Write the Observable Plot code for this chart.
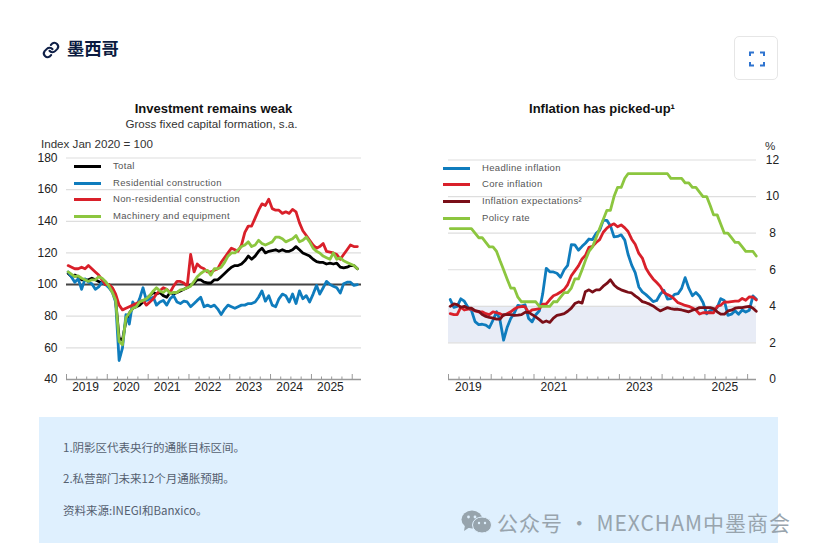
<!DOCTYPE html>
<html><head><meta charset="utf-8">
<script src="https://cdn.jsdelivr.net/npm/d3@7"></script>
<script src="https://cdn.jsdelivr.net/npm/@observablehq/plot@0.6"></script>
<style>
html,body{margin:0;padding:0;background:#fff;overflow:hidden}
body{position:relative;width:817px;height:555px;font-family:"Liberation Sans",Arial,sans-serif}
.abs{position:absolute;white-space:nowrap}
.t{font-weight:bold;font-size:13px;color:#111;transform:translateX(-50%);line-height:14px}
.s{font-size:11.6px;color:#333;line-height:14px}
.lg{font-size:9.5px;letter-spacing:.33px;color:#555;line-height:12px}
.sw{height:3px}
.note{left:63px;font-size:11.5px;color:#556070;font-family:"Noto Sans CJK SC";line-height:16px}
svg{display:block;overflow:visible}
</style></head><body>
<div id="root"></div>
<script>
// ---------- Left chart: investment (index, monthly from Jan 2019)
const total=[107,105,106,105,103,103,103,104,103,102,101,100,
100,97,90,66,65,77,82,85,86,87,89,91,
93,95,94,95,93,92,95,94,95,96,97,98,
99.5,101,103,103,101.5,101,101,103,103,105,107,109,
111,112,112,113,115,118,116,118,121,123,120,121,
121.5,122,121,122,121,121,122,124,122,120,119,118,
116,114.5,114,114,113,113.5,113,113.5,111,110.5,111,112,
112,110];
const residential=[108,104.6,101.5,103.6,97,103.6,101.5,100.5,97,98.5,101.5,100,
98,95,89,52,60,81,75,89,86,91,98,90,
91,92,87,89,90,87,91,93,89,88,89.5,89,
86,88,90,92,86,87,86,87,84.5,81,84.5,87,
86,85,86,87,87,88,88,89,92,96,89.5,93,
87,86,91,94,93,89,94,88,96,91,93,89,
94,99.5,94,98,102,100,99,98,94.6,100.5,101.5,101.5,
99.5,100];
const nonResidential=[112,111,110,110,111,110,112,110,108,106,103,100,
100,98,94,87,84,85,86,87,88,89,90,87,
89,91,94,96,98,97,95,99,102,102,101,99,
119,108,113,111,110,108,108,109,110,114,117,120,
123,122,121,125,133,137,137,142,147,151,150,154,
148,147,147,145,146,145,147.5,146,139,134,131,128,
125,123,124,126,121,120.5,120,119,116,119,122,125,
124,124];
const machinery=[108,106.5,105,105.5,104,103,102,103,103,105,104,102,
99,95,90,64,62,79,82,85,86,89,90,91,
93,96,98,96,95,97,94.5,95,95,96.6,97,98,
99,102,105,107,108.5,109,106,110,110,111,114,118,
120,120,122,124,125,127,124,125,128,126,125,126,
127,130,130,129,127,128,129,131,127,128,130,127,
123,121,120,118,117,116,120,116,117,115,114,113,
112,110];
// ---------- Right chart: inflation (percent, monthly from Jan 2019)
const headline=[4.37,3.94,4,4.41,4.28,3.95,3.78,3.16,3,3.02,2.97,2.83,
3.24,3.7,3.25,2.15,2.84,3.33,3.62,4.05,4.01,4.09,3.33,3.15,
3.54,3.76,4.67,6.08,5.89,5.88,5.81,5.59,6,6.24,7.37,7.36,
7.07,7.28,7.45,7.68,7.65,7.99,8.15,8.7,8.7,8.41,7.8,7.82,
7.91,7.62,6.85,6.25,5.84,5.06,4.79,4.64,4.45,4.26,4.32,4.66,
4.88,4.4,4.42,4.65,4.69,4.98,5.57,4.99,4.58,4.76,4.55,4.21,
3.59,3.77,3.8,3.93,4.42,4.32,3.51,3.57,3.76,3.57,3.8,3.69,
3.79,4.57,4.4];
const core=[3.6,3.55,3.55,3.95,3.8,3.85,3.85,3.75,3.7,3.7,3.6,3.55,
3.7,3.65,3.6,3.5,3.6,3.7,3.85,3.95,3.99,3.98,3.66,3.8,
3.84,3.87,4.12,4.13,4.37,4.58,4.66,4.78,4.92,5.19,5.67,5.94,
6.21,6.59,6.78,7.22,7.28,7.49,7.65,8.05,8.28,8.42,8.51,8.35,
8.45,8.29,8.09,7.67,7.39,6.89,6.64,6.08,5.76,5.5,5.3,5.09,
4.76,4.64,4.55,4.39,4.2,4.13,4.05,4,3.91,3.8,3.58,3.65,
3.65,3.66,3.64,4,4.06,4.24,4.23,4.26,4.28,4.28,4.43,4.33,
4.52,4.5,4.35];
const expectations=[4,4.13,4.09,3.95,4,3.9,3.9,3.76,3.73,3.55,3.45,3.4,
3.36,3.3,3.3,3.55,3.55,3.55,3.5,3.52,3.55,3.67,3.67,3.55,
3.42,3.27,3.12,3.2,3.12,3.36,3.5,3.55,3.6,3.73,3.9,4.15,
4.24,4.18,4.8,4.9,4.78,4.9,4.9,5.1,5.25,5.45,5.17,5,
4.9,4.83,4.77,4.73,4.57,4.43,4.26,4.2,4.12,4.02,3.88,3.75,
3.84,3.93,3.88,3.84,3.84,3.8,3.75,3.7,3.79,3.84,3.93,3.93,
3.93,3.93,3.88,3.7,3.57,3.57,3.75,3.79,3.9,3.93,3.93,3.97,
4,3.9,3.73];
const policy=[8.25,8.25,8.25,8.25,8.25,8.25,8.25,8,7.75,7.75,7.5,7.25,
7.25,7,6.5,6,5.5,5,5,4.5,4.25,4.25,4.25,4.25,
4.25,4,4,4,4,4.25,4.25,4.5,4.75,4.75,5,5.5,
5.5,6,6.5,7,7.25,7.75,8.25,8.75,9.25,9.25,10,10.5,
10.5,11,11.25,11.25,11.25,11.25,11.25,11.25,11.25,11.25,11.25,11.25,
11.25,11.25,11,11,11,11,10.75,10.75,10.5,10.5,10.25,10,
10,9.5,9,9,8.5,8,8,7.75,7.5,7.5,7.25,7,
7,7,6.75];

const leftYTicks=[40,60,80,100,120,140,160,180];
const rightYTicks=[0,2,4,6,8,10,12];
const leftYears=[2019,2020,2021,2022,2023,2024,2025];
const rightYears=[2019,2021,2023,2025];
const leftNames=["Total","Residential construction","Non-residential construction","Machinery and equipment"];
const rightNames=["Headline inflation","Core inflation","Inflation expectations²","Policy rate"];
const leftColors=["#000000","#0f7cbd","#d9202a","#8cc63f"];
const rightColors=["#0f7cbd","#d9202a","#7a0f18","#8cc63f"];

const root=document.getElementById("root");
const monthDate=i=>new Date(Date.UTC(2019,i,16));
const rows=a=>a.map((v,i)=>({date:monthDate(i),v}));
const midYear=y=>new Date(Date.UTC(y,5,20));
const quarters=d3.utcMonth.range(new Date(Date.UTC(2019,0,1)),new Date(Date.UTC(2026,3,1)),3);
const isYear=d=>d.getUTCMonth()===0;

function chart(o){
  const [y0,y1]=o.yDomain, u=(y1-y0)/221.5;
  const marks=[
    ...(o.band?[Plot.rect([o.band],{x1:()=>o.xDomain[0],x2:()=>o.xDomain[1],y1:d=>d[0],y2:d=>d[1],fill:"#e8ecf6"})]:[]),
    Plot.ruleY(o.yTicks.filter(t=>t!==y0),{stroke:"#dedede",strokeWidth:1.2}),
    ...(o.ref!=null?[Plot.ruleY([o.ref],{stroke:"#444",strokeWidth:2})]:[]),
    Plot.ruleY([y0],{stroke:"#999",strokeWidth:1.5}),
    Plot.ruleX(quarters,{x:d=>d,y1:y0,y2:d=>y0+(isYear(d)?5:2.5)*u,stroke:"#999",strokeWidth:1}),
    Plot.axisY({anchor:o.yAnchor,ticks:o.yTicks,tickSize:0,tickPadding:o.yPad,label:null,fontSize:12,color:"#222",textAnchor:o.yText}),
    Plot.axisX({ticks:o.years.map(midYear),tickFormat:d=>String(d.getUTCFullYear()),tickSize:0,tickPadding:3,label:null,fontSize:12,color:"#222"}),
    ...o.series.map((s,i)=>Plot.line(rows(s),{x:"date",y:"v",stroke:o.colors[i],strokeWidth:2.8,strokeLinejoin:"round"}))
  ];
  const svg=Plot.plot({width:o.width,height:o.height,marginLeft:o.ml,marginRight:o.mr,marginTop:o.mt,marginBottom:o.mb,
    x:{type:"utc",domain:o.xDomain},y:{domain:o.yDomain},style:{background:"transparent",fontFamily:"'Liberation Sans',Arial,sans-serif"},marks});
  const d=document.createElement("div");d.className="abs";d.style.left=o.left+"px";d.style.top=o.top+"px";d.appendChild(svg);root.appendChild(d);
}
chart({left:20,top:147,width:350,height:260,ml:46,mr:9,mt:10.5,mb:28,
  xDomain:[new Date(Date.UTC(2019,0,1)),new Date(Date.UTC(2026,2,25))],yDomain:[40,180],yTicks:leftYTicks,ref:100,yAnchor:"left",yPad:9,
  years:leftYears,series:[total,residential,nonResidential,machinery],colors:leftColors});
chart({left:430,top:147,width:360,height:260,ml:18,mr:34,mt:12.5,mb:28,
  xDomain:[new Date(Date.UTC(2019,0,1)),new Date(Date.UTC(2026,2,18))],yDomain:[0,12],yTicks:rightYTicks,band:[2,4],yAnchor:"right",yPad:16,yText:"middle",
  years:rightYears,series:[headline,core,expectations,policy],colors:rightColors});

function add(html,cls,css){const e=document.createElement("div");e.className="abs "+(cls||"");e.style.cssText=css||"";e.innerHTML=html;document.body.appendChild(e);return e}
function legend(names,colors,x0,xt,ys){names.forEach((n,i)=>{
  add("", "sw",`left:${x0}px;top:${ys[i]-1.5}px;width:27px;background:${colors[i]}`);
  add(n,"lg",`left:${xt}px;top:${ys[i]-6.5}px`);
})}
add("Investment remains weak","t","left:213.5px;top:102px");
add("Gross fixed capital formation, s.a.","s","left:211.5px;top:117px;transform:translateX(-50%)");
add("Index Jan 2020 = 100","s","left:41px;top:137px");
add("Inflation has picked-up¹","t","left:602px;top:102px");
add("%","s","left:765px;top:139px");
legend(leftNames,leftColors,74,113,[166,183,199,216]);
legend(rightNames,rightColors,443,482,[168,184,201,218]);
// header
add(`<svg width="18" height="18" viewBox="0 0 24 24" fill="none" stroke="#0f1f47" stroke-width="2.8" stroke-linecap="round" stroke-linejoin="round"><path d="M10 13a5 5 0 0 0 7.5.5l3-3a5 5 0 0 0-7-7l-1.7 1.7"/><path d="M14 11a5 5 0 0 0-7.5-.5l-3 3a5 5 0 0 0 7 7l1.7-1.7"/></svg>`,"","left:42px;top:41px");
add("墨西哥","",`left:67px;top:36px;font:bold 17.3px/24px "Noto Sans CJK SC";color:#0b1b40`);
add(`<svg width="16" height="16" viewBox="0 0 16 16" fill="none" stroke="#2f74d0" stroke-width="2" style="position:absolute;left:13.5px;top:13.5px"><path d="M1 5V1.5H5M11 1.5H15V5M15 11V14.5H11M5 14.5H1V11"/></svg>`,"",
  "left:734px;top:36px;width:42px;height:42px;border:1px solid #e6e6e6;border-radius:5px;background:#fff");
// notes
add("","","left:39px;top:417px;width:739px;height:126px;background:#dff0fe");
add("1.阴影区代表央行的通胀目标区间。","note","top:439px");
add("2.私营部门未来12个月通胀预期。","note","top:470px");
add("资料来源:INEGI和Banxico。","note","top:502px");
// watermark
add(`<svg width="31" height="24" viewBox="0 0 31 24"><ellipse cx="11" cy="9.5" rx="10.5" ry="9" fill="#97a4ad"/><path d="M4 15L3 21L9 17Z" fill="#97a4ad"/><ellipse cx="21" cy="15" rx="9.5" ry="8" fill="#97a4ad" stroke="#dff0fe" stroke-width="1"/><circle cx="7.5" cy="7" r="1.4" fill="#dff0fe"/><circle cx="14" cy="7" r="1.4" fill="#dff0fe"/><circle cx="18" cy="13" r="1.2" fill="#dff0fe"/><circle cx="24" cy="13" r="1.2" fill="#dff0fe"/></svg>`,"","left:461px;top:510px");
add("公众号 · MEXCHAM中墨商会","",`left:497px;top:508px;font:21px/28px "Noto Sans CJK SC";color:#98a4ad;letter-spacing:1px`);
</script>
</body></html>
